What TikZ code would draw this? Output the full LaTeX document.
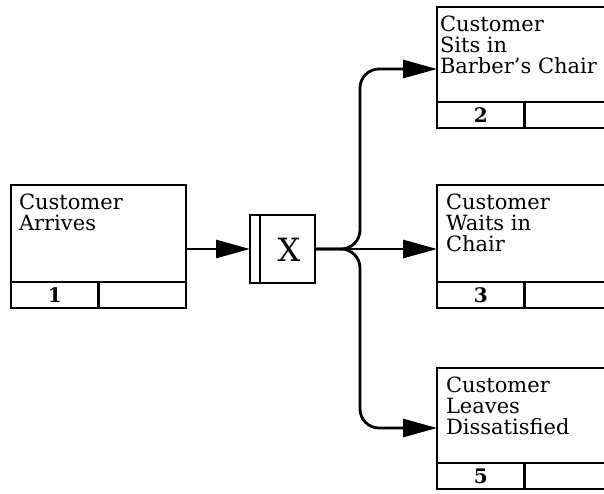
\documentclass[tikz,border=0pt]{standalone}
\usepackage{fontspec}
\setmainfont{DejaVu Serif}
\usetikzlibrary{arrows.meta}
\begin{document}
\begin{tikzpicture}[x=1pt,y=1pt,outer sep=0pt,
  box/.style={draw,line width=2.4pt,minimum width=175pt,minimum height=97pt,anchor=north west,inner sep=0pt},
  cell/.style={draw,line width=2.4pt,minimum width=87.5pt,minimum height=26pt,anchor=north west,inner sep=0pt,font=\fontsize{20}{20}\selectfont\bfseries},
  lbl/.style={anchor=north west,align=left,inner sep=0pt,font=\fontsize{21}{21}\selectfont},
  conn/.style={line width=2.8pt,-{Triangle[length=34pt,width=18pt]}},
  brace/.style={conn,rounded corners=19pt}]
\clip (0,0) rectangle (604,-493);
% left box
\node[box] (a1) at (11,-185) {};
\node[lbl] (t1) at (19,-194) {Customer\\Arrives};
\node[cell] (a1n) at (a1.south west) {1};
\node[cell] (a1e) at (a1n.north east) {};
% top right
\node[box,minimum height=95pt] (a2) at (437,-7) {};
\node[lbl] (t2) at (440,-16) {Customer\\Sits in\\Barber's Chair};
\node[cell] (a2n) at (a2.south west) {2};
\node[cell] (a2e) at (a2n.north east) {};
% middle right
\node[box] (a3) at (437,-185) {};
\node[lbl] (t3) at (446,-194) {Customer\\Waits in\\Chair};
\node[cell] (a3n) at (a3.south west) {3};
\node[cell] (a3e) at (a3n.north east) {};
% bottom right
\node[box,minimum height=95pt] (a5) at (437,-368) {};
\node[lbl] (t5) at (446,-377) {Customer\\Leaves\\Dissatisfied};
\node[cell] (a5n) at (a5.south west) {5};
\node[cell] (a5e) at (a5n.north east) {};
% junction
\node[draw,line width=2.4pt,minimum width=65pt,minimum height=68pt,anchor=north west,inner sep=0pt] (J) at (250,-215) {};
\node[font=\fontsize{32}{32}\selectfont] (JX) at (289,-250) {X};
\draw[line width=2.2pt] ([xshift=10pt]J.north west) -- ([xshift=10pt]J.south west);
% coordinates
\coordinate (p1) at ([yshift=-64pt]a1.north east);
\coordinate (p2) at ([yshift=-62pt]a2.north west);
\coordinate (p3) at ([yshift=-64pt]a3.north west);
\coordinate (p5) at ([yshift=-60pt]a5.north west);
\coordinate (br) at (360,-249);
% connectors
\draw[conn] (p1) -- (J.west|-p1);
\draw[conn] (J.east) -- (p3);
\draw[brace] (J.east) -- (br) -- (br|-p2) -- (p2);
\draw[brace] (J.east) -- (br) -- (br|-p5) -- (p5);
\end{tikzpicture}
\end{document}
